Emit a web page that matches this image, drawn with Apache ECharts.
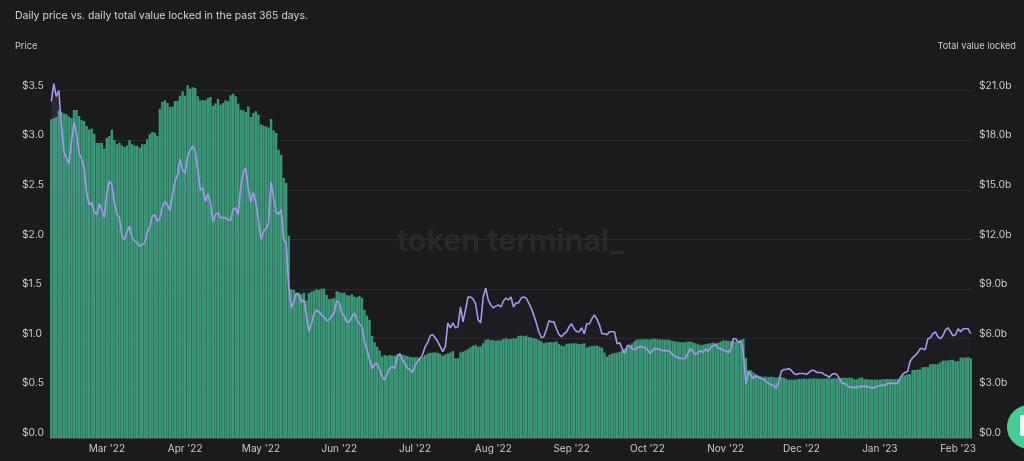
<!DOCTYPE html>
<html>
<head>
<meta charset="utf-8">
<title>Price vs. total value locked</title>
<style>
  html, body { margin: 0; padding: 0; background: #1b1b1e; }
  #chart { width: 1024px; height: 461px; }
</style>
<script src="https://cdn.jsdelivr.net/npm/echarts@6/dist/echarts.min.js"></script>
</head>
<body>
<div id="chart"></div>
<script>
// Daily total value locked, in billions of dollars (365 days from 7 Feb 2022).
const tvlValues = [
  19.26,19.32,19.40,19.82,19.70,19.62,19.56,19.42,19.32,19.82,
  19.82,19.46,19.22,19.16,18.86,18.65,18.71,18.39,17.83,17.83,
  17.85,17.50,18.15,18.25,18.63,18.01,17.75,17.85,17.68,17.58,
  17.68,17.99,17.75,17.68,17.65,17.54,17.75,17.75,18.05,18.35,
  18.49,18.45,18.25,19.90,20.31,20.41,20.25,20.00,20.04,20.37,
  20.37,20.69,20.95,20.69,21.31,21.11,21.19,21.15,20.65,20.39,
  20.41,20.41,20.55,20.61,20.08,20.21,20.49,20.14,20.25,20.41,
  20.35,20.71,20.81,20.65,20.21,19.84,19.80,19.70,20.04,19.40,
  19.64,19.74,19.54,18.94,18.89,18.83,18.77,19.28,18.59,18.43,
  17.42,17.12,15.71,15.41,12.22,9.00,8.95,8.65,8.79,8.69,
  8.79,8.31,8.75,8.85,8.89,9.00,8.95,9.03,9.03,8.65,
  8.39,8.43,8.45,8.87,8.81,8.75,8.79,8.63,8.61,8.69,
  8.55,8.51,8.59,8.47,7.74,7.40,7.14,6.17,5.79,5.52,
  5.28,4.92,5.02,4.96,5.02,4.99,4.97,5.06,5.06,5.04,
  4.99,4.96,4.90,4.88,4.88,4.88,4.86,4.92,5.02,5.10,
  5.14,5.16,5.18,5.16,5.08,4.96,5.06,5.12,5.18,5.26,
  4.82,4.82,5.18,5.22,5.28,5.38,5.49,5.58,5.63,5.51,
  5.55,5.73,5.93,5.97,5.91,5.91,5.87,5.91,5.89,5.99,
  6.03,5.97,5.99,6.03,6.03,6.17,6.19,6.15,6.19,6.11,
  6.07,6.03,5.99,5.91,5.85,5.73,5.77,5.79,5.79,5.79,
  5.83,5.67,5.58,5.55,5.69,5.71,5.71,5.73,5.71,5.67,
  5.69,5.73,5.46,5.52,5.55,5.57,5.58,5.52,5.46,5.16,
  4.92,5.02,5.10,5.14,5.16,5.22,5.30,5.40,5.52,5.63,
  5.72,5.87,5.95,5.95,5.97,5.97,5.97,5.95,6.01,5.99,
  5.97,5.95,5.95,5.93,5.95,5.91,5.87,5.83,5.83,5.79,
  5.79,5.79,5.83,5.83,5.79,5.73,5.67,5.63,5.63,5.67,
  5.71,5.73,5.77,5.73,5.75,5.83,5.91,5.89,5.87,5.87,
  5.87,5.83,5.83,5.93,5.99,4.84,4.11,4.09,3.97,3.85,
  3.77,3.73,3.71,3.71,3.69,3.71,3.69,3.65,3.69,3.69,
  3.65,3.57,3.51,3.53,3.53,3.53,3.57,3.57,3.59,3.57,
  3.59,3.59,3.61,3.59,3.59,3.59,3.59,3.61,3.59,3.59,
  3.61,3.61,3.63,3.63,3.65,3.63,3.65,3.63,3.55,3.55,
  3.63,3.65,3.55,3.55,3.53,3.53,3.53,3.53,3.53,3.55,
  3.55,3.57,3.57,3.57,3.55,3.57,3.59,3.79,3.79,3.85,
  3.85,4.11,4.11,4.14,4.14,4.28,4.28,4.28,4.46,4.46,
  4.46,4.46,4.58,4.68,4.68,4.68,4.72,4.72,4.65,4.65,
  4.86,4.86,4.86,4.88,4.82
];

// Daily token price, in dollars.
const priceValues = [
  3.39,3.57,3.44,3.50,3.16,2.88,2.82,2.76,2.99,3.18,
  3.07,2.87,2.81,2.72,2.47,2.35,2.37,2.28,2.25,2.36,
  2.30,2.22,2.47,2.59,2.55,2.37,2.25,2.22,2.03,2.00,
  2.08,2.13,2.02,1.98,1.97,1.93,1.95,1.96,2.07,2.13,
  2.23,2.25,2.18,2.22,2.33,2.38,2.35,2.29,2.45,2.59,
  2.65,2.81,2.70,2.67,2.84,2.90,2.94,2.89,2.70,2.50,
  2.52,2.38,2.46,2.37,2.18,2.25,2.27,2.22,2.22,2.22,
  2.20,2.19,2.30,2.32,2.25,2.53,2.67,2.72,2.52,2.38,
  2.47,2.37,2.20,2.00,2.08,2.11,2.16,2.58,2.42,2.28,
  2.25,2.30,2.00,1.96,1.53,1.31,1.37,1.46,1.44,1.37,
  1.39,1.24,1.07,1.15,1.25,1.29,1.27,1.24,1.22,1.18,
  1.19,1.23,1.26,1.38,1.36,1.26,1.23,1.17,1.17,1.22,
  1.26,1.19,1.15,1.12,0.97,0.89,0.79,0.70,0.74,0.75,
  0.69,0.62,0.585,0.65,0.70,0.72,0.70,0.82,0.85,0.79,
  0.75,0.70,0.69,0.66,0.73,0.77,0.80,0.84,0.92,0.96,
  1.03,1.04,1.01,0.97,0.92,0.87,0.92,1.16,1.11,1.16,
  1.11,1.12,1.32,1.17,1.29,1.42,1.42,1.40,1.35,1.19,
  1.16,1.42,1.51,1.39,1.34,1.31,1.33,1.34,1.32,1.38,
  1.41,1.39,1.42,1.32,1.36,1.36,1.41,1.42,1.41,1.36,
  1.31,1.24,1.16,1.07,1.01,1.02,1.09,1.18,1.17,1.17,
  1.10,1.04,1.02,1.05,1.07,1.12,1.15,1.10,1.07,1.07,
  1.11,1.05,1.15,1.15,1.20,1.24,1.20,1.14,1.05,1.05,
  1.04,1.07,1.07,1.07,0.95,0.96,0.90,0.85,0.93,0.93,
  0.90,0.89,0.91,0.92,0.92,0.91,0.89,0.85,0.88,0.90,
  0.90,0.89,0.88,0.88,0.88,0.87,0.84,0.82,0.81,0.80,
  0.80,0.80,0.85,0.90,0.87,0.84,0.86,0.88,0.86,0.90,
  0.87,0.91,0.93,0.94,0.91,0.90,0.88,0.88,0.86,0.89,
  1.00,1.00,0.96,0.98,0.85,0.54,0.67,0.63,0.60,0.63,
  0.61,0.60,0.59,0.57,0.55,0.54,0.53,0.50,0.57,0.67,
  0.69,0.69,0.70,0.68,0.65,0.64,0.65,0.65,0.65,0.64,
  0.66,0.68,0.68,0.66,0.66,0.66,0.64,0.63,0.61,0.64,
  0.65,0.64,0.60,0.55,0.55,0.53,0.51,0.51,0.51,0.51,
  0.52,0.52,0.52,0.52,0.51,0.50,0.51,0.52,0.53,0.53,
  0.53,0.55,0.55,0.55,0.55,0.55,0.60,0.64,0.66,0.67,
  0.77,0.81,0.83,0.86,0.90,0.90,0.89,1.00,1.01,1.05,
  1.07,1.02,1.00,1.03,1.09,1.11,1.07,1.03,1.04,1.10,
  1.07,1.10,1.10,1.10,1.05
];

const firstDay = '2022-02-07';
const priceTicks = [0, 0.5, 1, 1.5, 2, 2.5, 3, 3.5];
const tvlTicks = [0, 3, 6, 9, 12, 15, 18, 21];

// Calendar days along the bottom axis.
const categories = tvlValues.map((_, i) => {
  const d = new Date(firstDay + 'T00:00:00Z');
  d.setUTCDate(d.getUTCDate() + i);
  return d.toISOString().slice(0, 10);
});

const monthNames = ['Jan','Feb','Mar','Apr','May','Jun','Jul','Aug','Sep','Oct','Nov','Dec'];
const isMonthStart = (index, day) => day.slice(8) === '01';
const monthLabel = day =>
  monthNames[+day.slice(5, 7) - 1] + " '" + day.slice(2, 4);

const textColor = '#c9c9cc';
const fontFamily = 'Inter, "Noto Sans", sans-serif';
const gridColor = '#2b2b2e';

const chart = echarts.init(document.getElementById('chart'), null, { renderer: 'canvas' });
chart.setOption({
  backgroundColor: '#1b1b1e',
  animation: false,
  textStyle: { fontFamily },
  title: [
    { text: 'Daily price vs. daily total value locked in the past 365 days.', left: 10, top: 5,
      textStyle: { color: '#d4d4d7', fontSize: 10.5, fontWeight: 400, fontFamily } },
    { text: 'Price', left: 10, top: 37,
      textStyle: { color: textColor, fontSize: 9.2, fontWeight: 400, fontFamily } },
    { text: 'Total value locked', right: 3, top: 37,
      textStyle: { color: textColor, fontSize: 9.2, fontWeight: 400, fontFamily } }
  ],
  graphic: [
    { type: 'text', z: -1, left: 397, top: 227,
      style: { text: 'token terminal_', fill: '#29282b', fontSize: 30.3, fontWeight: 700, fontFamily } },
    { type: 'circle', z: 100, shape: { cx: 1029, cy: 427, r: 22 }, style: { fill: '#45cd94' } },
    { type: 'rect', z: 101, shape: { x: 1020, y: 415, width: 14, height: 21, r: 2 }, style: { fill: '#f3fbf7' } }
  ],
  grid: { left: 50, right: 52, top: 90.5, bottom: 23 },
  xAxis: {
    type: 'category',
    data: categories,
    boundaryGap: true,
    axisLine: { lineStyle: { color: '#47474b', width: 1 } },
    axisTick: { interval: isMonthStart, alignWithLabel: true, length: 5, lineStyle: { color: '#47474b' } },
    axisLabel: {
      interval: isMonthStart,
      formatter: monthLabel,
      color: textColor, fontSize: 10, margin: 6, fontFamily
    },
    splitLine: { show: false }
  },
  yAxis: [
    {
      type: 'value', min: priceTicks[0], max: priceTicks[priceTicks.length - 1], interval: 0.5,
      axisLine: { show: false }, axisTick: { show: false },
      splitLine: { lineStyle: { color: gridColor, width: 1 } },
      axisLabel: {
        formatter: v => '$' + v.toFixed(1),
        color: textColor, fontSize: 10.3, align: 'left', verticalAlign: 'bottom',
        margin: 28, lineHeight: 10, fontFamily
      }
    },
    {
      type: 'value', min: tvlTicks[0], max: tvlTicks[tvlTicks.length - 1], interval: 3,
      axisLine: { show: false }, axisTick: { show: false },
      splitLine: { show: false },
      axisLabel: {
        // The zero tick carries no unit suffix.
        formatter: v => '$' + v.toFixed(1) + (v === 0 ? '' : 'b'),
        color: textColor, fontSize: 10.3, align: 'left', verticalAlign: 'bottom',
        margin: 7, lineHeight: 10, fontFamily
      }
    }
  ],
  series: [
    {
      name: 'Total value locked', type: 'bar', yAxisIndex: 1, data: tvlValues,
      clip: false, barCategoryGap: '5%',
      itemStyle: { color: '#3a9877' }
    },
    {
      name: 'Price', type: 'line', yAxisIndex: 0, data: priceValues,
      clip: false, showSymbol: false, smooth: false,
      lineStyle: { color: '#a796ee', width: 1.6 },
      areaStyle: {
        color: new echarts.graphic.LinearGradient(0, 0, 0, 1, [
          { offset: 0, color: 'rgba(167,150,238,0.16)' },
          { offset: 0.5, color: 'rgba(167,150,238,0.05)' },
          { offset: 0.62, color: 'rgba(167,150,238,0.025)' },
          { offset: 1, color: 'rgba(167,150,238,0.02)' }
        ])
      },
      z: 5
    }
  ]
});
</script>
</body>
</html>
